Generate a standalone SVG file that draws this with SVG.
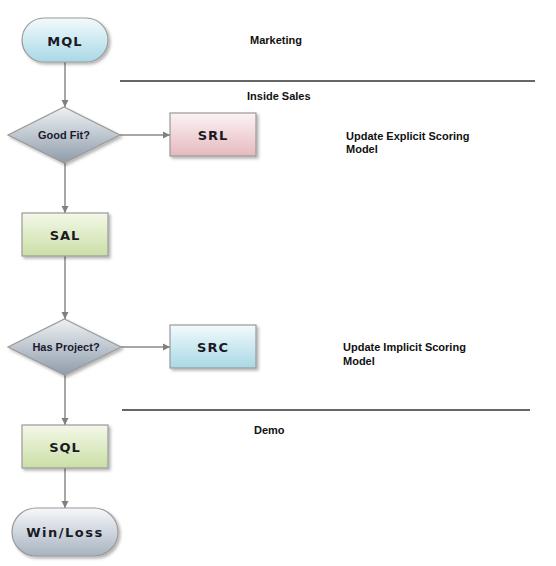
<svg xmlns="http://www.w3.org/2000/svg" width="556" height="566" viewBox="0 0 556 566">
<defs>
<style>
.node{stroke:#9a9a9a;stroke-width:1.2;}
.ntext{font-family:"DejaVu Sans",Verdana,sans-serif;font-weight:bold;font-size:13px;fill:#1a1a24;letter-spacing:1px;text-anchor:middle;}
.dtext{font-family:"Liberation Sans",Arial,sans-serif;font-weight:bold;font-size:11px;fill:#1a1a30;text-anchor:middle;}
.label{font-family:"Liberation Sans",Arial,sans-serif;font-weight:bold;font-size:11px;fill:#111;}
.conn{stroke:#8a8a8a;stroke-width:1.5;fill:none;marker-end:url(#arr);}
.sep{stroke:#333;stroke-width:1.5;}
</style>
<marker id="arr" markerWidth="8" markerHeight="8" refX="7" refY="4" orient="auto" markerUnits="userSpaceOnUse">
<path d="M0,0.5 L7,4 L0,7.5 Z" fill="#808080"/>
</marker>
<linearGradient id="gBlue" x1="0" y1="0" x2="0" y2="1"><stop offset="0" stop-color="#f2fafc"/><stop offset="1" stop-color="#a9d8e6"/></linearGradient>
<linearGradient id="gPink" x1="0" y1="0" x2="0" y2="1"><stop offset="0" stop-color="#fbf3f4"/><stop offset="1" stop-color="#e6b9bd"/></linearGradient>
<linearGradient id="gGreen" x1="0" y1="0" x2="0" y2="1"><stop offset="0" stop-color="#f4f8e8"/><stop offset="1" stop-color="#cadfa6"/></linearGradient>
<linearGradient id="gGray" x1="0" y1="0" x2="0" y2="1"><stop offset="0" stop-color="#f6f8fa"/><stop offset="1" stop-color="#a7b3c0"/></linearGradient>
<linearGradient id="gDia" x1="0" y1="0" x2="0" y2="1"><stop offset="0" stop-color="#eef1f4"/><stop offset="1" stop-color="#8f9cab"/></linearGradient>
<filter id="sh" x="-20%" y="-20%" width="150%" height="160%"><feDropShadow dx="2" dy="2" stdDeviation="1.5" flood-color="#000" flood-opacity="0.3"/></filter>
</defs>

<g id="separators">
<line class="sep" x1="120" y1="81" x2="535" y2="81"/>
<line class="sep" x1="122" y1="410" x2="530" y2="410"/>
</g>

<g id="labels">
<text class="label" x="250" y="44">Marketing</text>
<text class="label" x="247" y="100">Inside Sales</text>
<text class="label" x="346" y="140">Update Explicit Scoring</text>
<text class="label" x="346" y="153">Model</text>
<text class="label" x="343" y="351">Update Implicit Scoring</text>
<text class="label" x="343" y="365">Model</text>
<text class="label" x="254" y="434">Demo</text>
</g>

<g id="connectors">
<line class="conn" x1="65" y1="62" x2="65" y2="107"/>
<line class="conn" x1="120" y1="135" x2="170" y2="135"/>
<line class="conn" x1="65" y1="163" x2="65" y2="213"/>
<line class="conn" x1="65" y1="256" x2="65" y2="319"/>
<line class="conn" x1="121" y1="347" x2="170" y2="347"/>
<line class="conn" x1="65" y1="375" x2="65" y2="425"/>
<line class="conn" x1="65" y1="468" x2="65" y2="508"/>
</g>

<g id="mql">
<rect class="node" x="22" y="18" width="86" height="44" rx="22" fill="url(#gBlue)" filter="url(#sh)"/>
<text class="ntext" x="65" y="45.5">MQL</text>
</g>

<g id="goodfit">
<polygon class="node" points="64,107 120,135 64,163 8,135" fill="url(#gDia)" filter="url(#sh)"/>
<text class="dtext" x="64" y="139">Good Fit?</text>
</g>

<g id="srl">
<rect class="node" x="170" y="113" width="86" height="43" fill="url(#gPink)" filter="url(#sh)"/>
<text class="ntext" x="213" y="139.5">SRL</text>
</g>

<g id="sal">
<rect class="node" x="22" y="213" width="86" height="43" fill="url(#gGreen)" filter="url(#sh)"/>
<text class="ntext" x="65" y="239.5">SAL</text>
</g>

<g id="hasproject">
<polygon class="node" points="64.5,319 121,347 64.5,375 8,347" fill="url(#gDia)" filter="url(#sh)"/>
<text class="dtext" x="66" y="351">Has Project?</text>
</g>

<g id="src">
<rect class="node" x="170" y="325" width="86" height="43" fill="url(#gBlue)" filter="url(#sh)"/>
<text class="ntext" x="213" y="351.5">SRC</text>
</g>

<g id="sql">
<rect class="node" x="22" y="425" width="86" height="43" fill="url(#gGreen)" filter="url(#sh)"/>
<text class="ntext" x="65" y="451.5">SQL</text>
</g>

<g id="winloss">
<rect class="node" x="12" y="508" width="106" height="48" rx="24" fill="url(#gGray)" filter="url(#sh)"/>
<text class="ntext" x="65" y="537" style="letter-spacing:1.5px">Win/Loss</text>
</g>
</svg>
